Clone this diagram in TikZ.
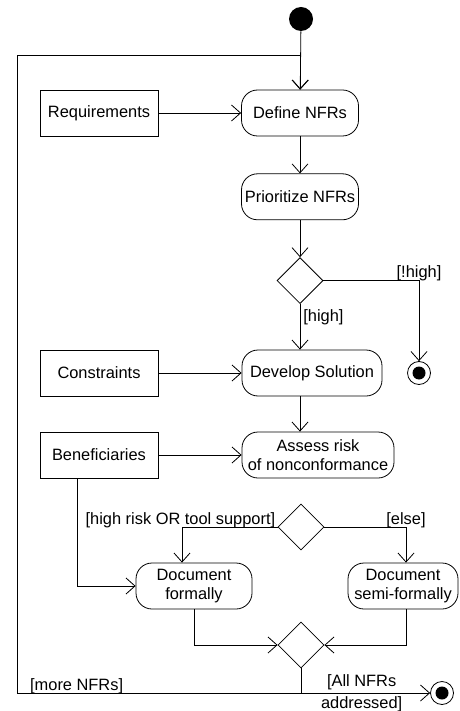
\documentclass[tikz,border=0pt]{standalone}
\usepackage{fontspec}
\setmainfont{Liberation Sans}
\usetikzlibrary{arrows.meta,positioning,shapes.geometric}

\begin{document}
\begin{tikzpicture}[x=1pt,y=-1pt,font=\fontsize{16.4}{19.5}\selectfont,line width=0.8pt,
 box/.style={draw,minimum width=118pt,minimum height=46pt,inner sep=1pt},
 act/.style={draw,rounded corners=16pt,minimum width=117pt,minimum height=46pt,align=center,inner sep=1pt},
 dec/.style={draw,diamond,aspect=1,minimum size=46pt,inner sep=0pt},
 fin/.style={draw,circle,minimum size=23pt,inner sep=0pt,path picture={\fill (path picture bounding box.center) circle (6.5pt);}},
 arr/.style={-{Straight Barb[length=9pt,width=16pt]}},
 lbl/.style={inner sep=0pt,anchor=base}]
\useasboundingbox (0,0) rectangle (459,711);
\node[circle,fill,minimum size=24pt,inner sep=0pt] (s) at (301,19) {};
\node[act] (d) at (300,113) {Define NFRs};
\node[box] (r) at (99,113) {Requirements};
\node[act,below=37pt of d] (p) {Prioritize NFRs};
\node[dec,below=37pt of p] (q1) {};
\node[act,minimum width=140pt] (ds) at (312,373) {Develop Solution};
\node[box] (c) at (99,373) {Constraints};
\node[fin] (f1) at (419,373) {};
\node[act,minimum width=152pt] (as) at (318,455) {Assess risk\\of nonconformance};
\node[box] (b) at (99,455) {Beneficiaries};
\node[dec] (q2) at (301,527) {};
\node[act,minimum width=116pt] (df) at (194,586) {Document\\formally};
\node[act,minimum width=110pt] (dsf) at (403,586) {Document\\semi-formally};
\node[dec] (q3) at (301,645) {};
\node[fin] (f2) at (442,693) {};
\coordinate (j) at (301,693);
\coordinate (lb) at (17,693);
\coordinate (lt) at (17,55);
\draw[arr] (s)--(d);\draw[arr] (r)--(d);\draw[arr] (d)--(p);\draw[arr] (p)--(q1);
\draw[arr] (q1)--node[right,pos=0.3,inner sep=3pt]{[high]}(q1|-ds.north);
\draw[arr] (q1)-|node[lbl,yshift=3pt]{[!high]}(f1);
\draw[arr] (c)--(ds);\draw[arr] (q1|-ds.south)--(q1|-as.north);\draw[arr] (b)--(as);
\draw[arr] ([xshift=-22pt]b.south)|-(df);
\draw[arr] (q2)-|node[lbl,pos=0,anchor=base east,xshift=-2pt,yshift=3pt]{[high risk OR tool support]}([xshift=-12pt]df.north);
\draw[arr] (q2)-|node[lbl,yshift=3pt]{[else]}([xshift=3pt]dsf.north);
\draw[arr] (df)|-(q3);\draw[arr] ([xshift=3pt]dsf.south)|-(q3);
\draw (q3)--(j);
\draw[arr] (j)--node[pos=0.47,align=center,inner sep=0pt]{[All NFRs\\[2.5pt]addressed]}(f2);
\draw[arr] (j)--node[lbl,pos=0.79,yshift=3pt]{[more NFRs]}(lb)--(lt)--(lt-|d)--(d);
\end{tikzpicture}
\end{document}
